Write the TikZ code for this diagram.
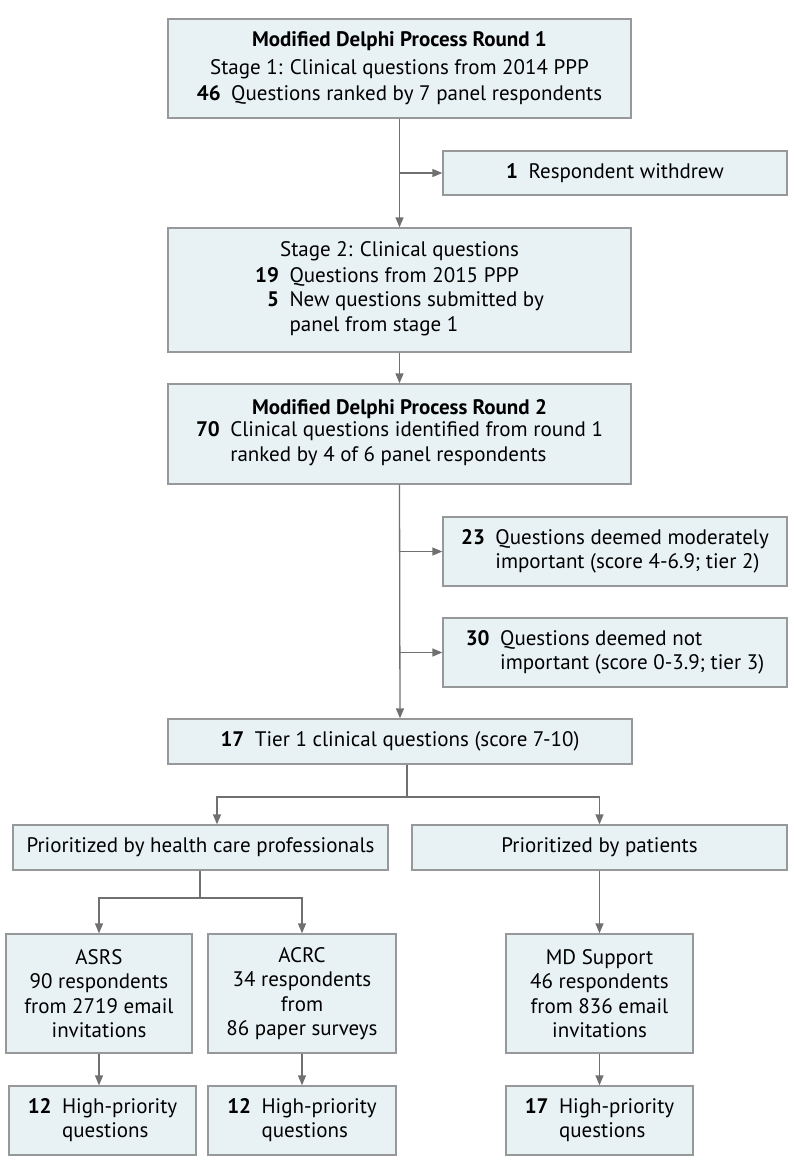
\documentclass[tikz,border=0pt]{standalone}
\usepackage{fontspec}
\setmainfont{PT Sans}
\usetikzlibrary{arrows.meta}
\definecolor{boxfill}{RGB}{232,242,245}
\definecolor{boxline}{RGB}{150,152,154}
\definecolor{arrline}{RGB}{112,112,112}
\tikzset{
  stepbox/.style={draw=boxline, fill=boxfill, line width=1.3pt, inner sep=0pt, align=center,
    font=\fontsize{21}{24.5}\selectfont},
  arr/.style={-{Triangle[length=10pt,width=8pt]}, draw=arrline, line width=1.3pt},
  ln/.style={draw=arrline, line width=1.3pt}
}
\newcommand{\num}[1]{\textbf{#1}}
\begin{document}
\begin{tikzpicture}[x=1pt, y=-1pt]
\useasboundingbox (0,0) rectangle (794,1175);
% Delphi rounds
\node[stepbox, minimum width=463pt, minimum height=99pt] (r1) at (399.5,68.5)
  {\textbf{Modified Delphi Process Round 1}\\[3pt]
   Stage 1: Clinical questions from 2014 PPP\\[2pt]
   \num{46}\enspace Questions ranked by 7 panel respondents};
\node[stepbox, minimum width=344pt, minimum height=44pt] (wd) at (615,173)
  {\num{1}\enspace Respondent withdrew};
\node[stepbox, minimum width=463pt, minimum height=124pt] (r2) at (399.5,290)
  {Stage 2: Clinical questions\\[3pt]
   \begin{tabular}{@{}r@{\enspace}l@{}}
   \num{19} & Questions from 2015 PPP\\
   \num{5} & New questions submitted by\\
    & panel from stage 1
   \end{tabular}};
\node[stepbox, minimum width=463pt, minimum height=100pt] (r3) at (399.5,434)
  {\textbf{Modified Delphi Process Round 2}\\
   \begin{tabular}{@{}r@{\enspace}l@{}}
   \num{70} & Clinical questions identified from round 1\\
    & ranked by 4 of 6 panel respondents
   \end{tabular}};
% tiers
\node[stepbox, minimum width=344pt, minimum height=69pt] (t2) at (615,551.5)
  {\begin{tabular}{@{}r@{\enspace}l@{}}
   \num{23} & Questions deemed moderately\\
    & important (score 4-6.9; tier 2)
   \end{tabular}};
\node[stepbox, minimum width=344pt, minimum height=69pt] (t3) at (615,652.5)
  {\begin{tabular}{@{}r@{\enspace}l@{}}
   \num{30} & Questions deemed not\\
    & important (score 0-3.9; tier 3)
   \end{tabular}};
\node[stepbox, minimum width=464pt, minimum height=45pt] (t1) at (400,741.5)
  {\num{17}\enspace Tier 1 clinical questions (score 7-10)};
% prioritization
\node[stepbox, minimum width=375pt, minimum height=45pt] (hcp) at (200.5,847.5)
  {Prioritized by health care professionals};
\node[stepbox, minimum width=375pt, minimum height=45pt] (pat) at (599.5,847.5)
  {Prioritized by patients};
\node[stepbox, minimum width=186pt, minimum height=119pt] (asrs) at (99,993.5)
  {ASRS\\90 respondents\\from 2719 email\\invitations};
\node[stepbox, minimum width=188pt, minimum height=119pt] (acrc) at (302,993.5)
  {ACRC\\34 respondents\\from\\86 paper surveys};
\node[stepbox, minimum width=187pt, minimum height=119pt] (mds) at (599.5,993.5)
  {MD Support\\46 respondents\\from 836 email\\invitations};
\node[stepbox, minimum width=187pt, minimum height=69pt] (hp1) at (102.5,1120.5)
  {\begin{tabular}{@{}r@{\enspace}l@{}}
   \num{12} & High-priority\\ & questions
   \end{tabular}};
\node[stepbox, minimum width=188pt, minimum height=69pt] (hp2) at (302,1120.5)
  {\begin{tabular}{@{}r@{\enspace}l@{}}
   \num{12} & High-priority\\ & questions
   \end{tabular}};
\node[stepbox, minimum width=187pt, minimum height=69pt] (hp3) at (599.5,1120.5)
  {\begin{tabular}{@{}r@{\enspace}l@{}}
   \num{17} & High-priority\\ & questions
   \end{tabular}};
% connectors
\draw[arr] (r1.south) -- (r2.north);
\draw[arr] (r1.south |- wd.west) -- (wd.west);
\draw[arr] (r2.south) -- (r3.north);
\draw[arr] (r3.south) -- (t1.north);
\draw[arr] (r3.south |- t2.west) -- (t2.west);
\draw[arr] (r3.south |- t3.west) -- (t3.west);
\coordinate (s1) at (407,797);
\draw[ln] (t1.south -| s1) -- (s1);
\draw[arr] (s1) -| ([xshift=16.5pt]hcp.north);
\draw[arr] (s1) -| (pat.north);
\coordinate (s2) at (200,898);
\draw[ln] (hcp.south -| s2) -- (s2);
\draw[arr] (s2) -| (asrs.north);
\draw[arr] (s2) -| (acrc.north);
\draw[arr] (pat.south) -- (mds.north);
\draw[arr] (asrs.south) -- (asrs.south |- hp1.north);
\draw[arr] (acrc.south) -- (hp2.north);
\draw[arr] (mds.south) -- (hp3.north);
\end{tikzpicture}
\end{document}
